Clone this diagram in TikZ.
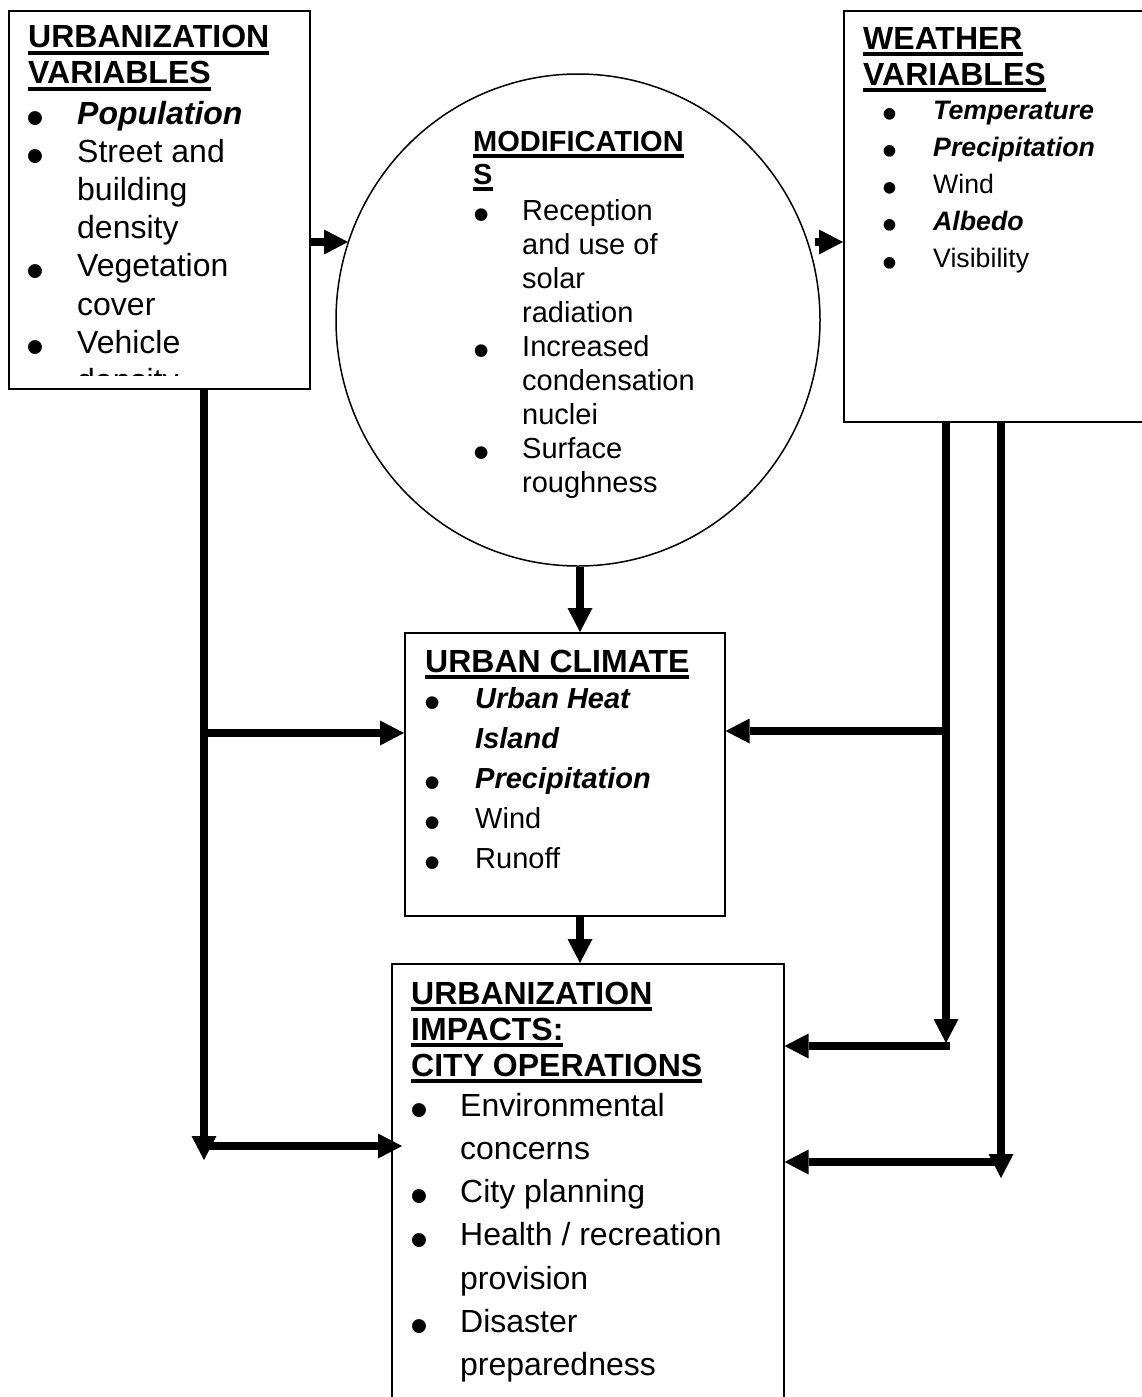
\documentclass[tikz,border=0pt]{standalone}
\usepackage{fontspec}
\setmainfont{Liberation Sans}
\usetikzlibrary{arrows.meta,shapes.geometric}
\newcommand\uln[1]{\setbox0\hbox{#1}\rlap{\rule[-7pt]{\wd0}{3.8pt}}\box0}
\newcommand\bi[2]{\par\noindent\makebox[0pt]{\smash{\raisebox{-0.35em}{\scalebox{1.6}{\textbullet}}}}\hspace*{#1}#2}
\newcommand\bc[2]{\par\noindent\hspace*{#1}#2}
\newcommand\blk[3]{\vtop{\hsize=420pt\parindent=0pt\parskip=0pt\fontsize{#1}{#2}\selectfont #3\par}}
\newcommand\bib[2]{\bi{#1}{\textbf{\textit{#2}}}}
\tikzset{
  box/.style={draw, line width=1.6pt, inner sep=0pt, anchor=north west},
  txt/.style={inner sep=0pt, anchor=base west},
  arr/.style={line width=8.5pt, -{Triangle[length=24pt,width=25pt,line width=0pt]}}
}
\begin{document}
\begin{tikzpicture}[x=1pt,y=-1pt]
\useasboundingbox (0,0) rectangle (1141,1397);
% boxes
\node[box, minimum width=301pt, minimum height=378pt] (uv) at (8,10) {};
\node[box, minimum width=312pt, minimum height=411pt] (wv) at (843,10) {};
\node[draw, ellipse, line width=1.5pt, minimum width=484pt, minimum height=492pt, inner sep=0pt] (mod) at (578,320) {};
\node[box, minimum width=320pt, minimum height=283pt] (cl) at (404,632) {};
\node[box, minimum width=392pt, minimum height=470pt] (imp) at (391,963) {};
% urbanization variables
\node[txt] (uvt) at (28,48) {\blk{32}{36}{\textbf{\uln{URBANIZATION}}\par\textbf{\uln{VARIABLES}}}};
\begin{scope}
\clip (8,10) rectangle (309,375);
\node[txt] (uvl) at (35,124) {\blk{32}{38.2}{\bib{42pt}{Population}\bi{42pt}{Street and}\bc{42pt}{building}\bc{42pt}{density}\bi{42pt}{Vegetation}\bc{42pt}{cover}\bi{42pt}{Vehicle}\bc{42pt}{density}}};
\end{scope}
% weather variables
\node[txt] (wvt) at (863,49) {\blk{32}{36}{\textbf{\uln{WEATHER}}\par\textbf{\uln{VARIABLES}}}};
\node[txt] (wvl) at (890,119) {\blk{26.7}{37.2}{\bib{43pt}{Temperature}\bib{43pt}{Precipitation}\bi{43pt}{Wind}\bib{43pt}{Albedo}\bi{43pt}{Visibility}}};
% modifications
\node[txt] (modt) at (473,151) {\blk{29}{33}{\textbf{\uln{MODIFICATION}}\par\textbf{\uln{S}}}};
\node[txt] (modl) at (481,220) {\blk{29}{34}{\bi{41pt}{Reception}\bc{41pt}{and use of}\bc{41pt}{solar}\bc{41pt}{radiation}\bi{41pt}{Increased}\bc{41pt}{condensation}\bc{41pt}{nuclei}\bi{41pt}{Surface}\bc{41pt}{roughness}}};
% urban climate
\node[txt] (clt) at (425,672) {\blk{32}{36}{\textbf{\uln{URBAN CLIMATE}}}};
\node[txt] (cll) at (432,708) {\blk{29}{40.2}{\bib{43pt}{Urban Heat}\bc{43pt}{\textbf{\textit{Island}}}\bib{43pt}{Precipitation}\bi{43pt}{Wind}\bi{43pt}{Runoff}}};
% impacts
\node[txt] (impt) at (411,1004) {\blk{32}{36}{\textbf{\uln{URBANIZATION}}\par\textbf{\uln{IMPACTS:}}\par\textbf{\uln{CITY OPERATIONS}}}};
\node[txt] (impl) at (419,1116) {\blk{32}{43.3}{\bi{41pt}{Environmental}\bc{41pt}{concerns}\bi{41pt}{City planning}\bi{41pt}{Health / recreation}\bc{41pt}{provision}\bi{41pt}{Disaster}\bc{41pt}{preparedness}}};
% routing points
\coordinate (E1) at (348,242);
\coordinate (E2) at (815,242);
\coordinate (L1) at (204,733);
\coordinate (L2) at (204,1146);
\coordinate (Ltip) at (204,1160);
\coordinate (R1) at (946,731);
\coordinate (R1tip) at (946,1043);
\coordinate (R1h) at (950,1046);
\coordinate (R2tip) at (1001,1178);
\coordinate (R2h) at (1005,1162);
% connectors
\draw[arr] (uv.east |- E1) -- (E1);
\draw[arr] (E2) -- (E2 -| wv.west);
\draw[arr] ([xshift=2pt]mod.south) -- ([xshift=2pt]mod.south |- cl.north);
\draw[arr] ([xshift=2pt]cl.south -| mod.south) -- ([xshift=2pt]imp.north -| mod.south);
\draw[arr] (uv.south -| Ltip) -- (Ltip);
\draw[arr] (L1) -- (L1 -| cl.west);
\draw[arr, shorten >=-11pt] (L2) -- (L2 -| imp.west);
\draw[arr] (wv.south -| R1tip) -- (R1tip);
\draw[arr] (R1) -- (R1 -| cl.east);
\draw[arr] (R1h) -- (R1h -| imp.east);
\draw[arr] (wv.south -| R2tip) -- (R2tip);
\draw[arr] (R2h) -- (R2h -| imp.east);
\end{tikzpicture}
\end{document}
